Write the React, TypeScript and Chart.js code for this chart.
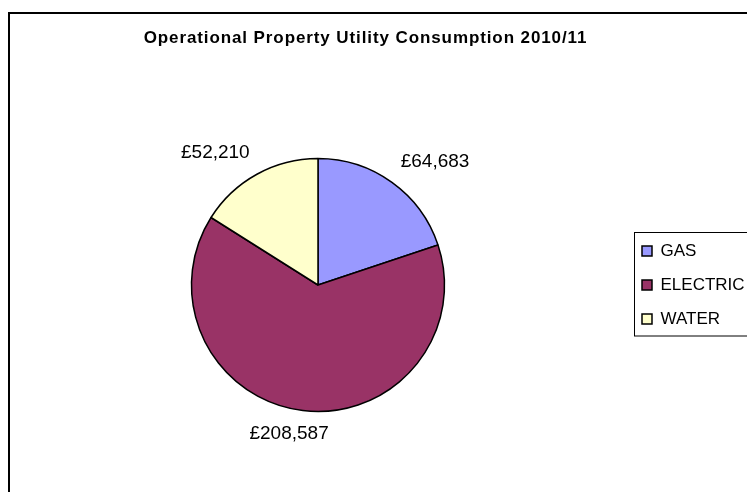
import { useEffect, useRef } from 'react';
import { Chart, registerables } from 'chart.js';

Chart.register(...registerables);

const titleText = 'Operational Property Utility Consumption 2010/11';
const categories = ['GAS', 'ELECTRIC', 'WATER'];
const costs = [64683, 208587, 52210];
const sliceColors = ['#9999FF', '#993366', '#FFFFCC'];

const FONT = "'Liberation Sans', Arial, Helvetica, sans-serif";
const CANVAS_W = 780;
const CANVAS_H = 500;

function formatPounds(v: number): string {
  return '£' + String(v).replace(/\B(?=(\d{3})+(?!\d))/g, ',');
}

const framePlugin = {
  id: 'frame',
  afterInit(chart: any) {
    const tb = chart.titleBlock;
    if (tb && !tb.__spaced) {
      const orig = tb.draw.bind(tb);
      tb.draw = (...args: any[]) => {
        const ctx: any = chart.ctx;
        const prev = ctx.letterSpacing;
        ctx.letterSpacing = '0.9px';
        orig(...args);
        ctx.letterSpacing = prev || '0px';
      };
      tb.__spaced = true;
    }
    const lg = chart.legend;
    if (lg && !lg.__noclip && typeof lg._draw === 'function') {
      // legend text runs past the legend box, as in the cropped original
      lg.draw = function () {
        if (this.options.display) this._draw();
      };
      lg.__noclip = true;
    }
  },
  beforeDraw(chart: any) {
    const ctx = chart.ctx;
    ctx.save();
    ctx.fillStyle = '#ffffff';
    ctx.fillRect(0, 0, chart.width, chart.height);
    ctx.strokeStyle = '#000000';
    ctx.lineWidth = 2;
    ctx.strokeRect(9, 13, chart.width + 40, chart.height + 40);
    ctx.restore();
  },
  afterDraw(chart: any) {
    const ctx = chart.ctx;
    const lg = chart.legend;
    if (!lg) return;
    ctx.save();
    ctx.strokeStyle = '#000000';
    ctx.lineWidth = 1;
    ctx.strokeRect(Math.round(lg.left + 9) + 0.5, 232.5, 300, 103.5);
    ctx.restore();
  },
};

const labelPlugin = {
  id: 'sliceLabels',
  afterDatasetsDraw(chart: any) {
    const ctx = chart.ctx;
    const meta = chart.getDatasetMeta(0);
    const values = chart.data.datasets[0].data as number[];
    const clamp = (v: number) => Math.max(-1, Math.min(1, v));
    ctx.save();
    ctx.font = `19px ${FONT}`;
    ctx.fillStyle = '#000000';
    ctx.textAlign = 'center';
    ctx.textBaseline = 'middle';
    meta.data.forEach((arc: any, i: number) => {
      const p = arc.getProps(['x', 'y', 'startAngle', 'endAngle', 'outerRadius'], true);
      const mid = (p.startAngle + p.endAngle) / 2;
      const dx = Math.cos(mid);
      const dy = Math.sin(mid);
      const dist = p.outerRadius + 15;
      const text = formatPounds(values[i]);
      const w = ctx.measureText(text).width;
      const h = 16;
      const cx = p.x + dist * dx + (w / 2) * clamp(dx / 0.4);
      const cy = p.y + dist * dy + (h / 2) * clamp(dy / 0.5);
      ctx.fillText(text, cx, cy);
    });
    ctx.restore();
  },
};

export default function App() {
  const canvasRef = useRef<HTMLCanvasElement | null>(null);

  useEffect(() => {
    if (!canvasRef.current) return;
    const chart = new Chart(canvasRef.current, {
      type: 'pie',
      data: {
        labels: categories,
        datasets: [
          {
            data: costs,
            backgroundColor: sliceColors,
            borderColor: '#000000',
            borderWidth: 1.5,
            radius: 126.5,
            hoverOffset: 0,
          } as any,
        ],
      },
      options: {
        responsive: false,
        animation: false,
        events: [],
        layout: { padding: { left: 11, right: 60, top: 0, bottom: 20 } },
        plugins: {
          title: {
            display: true,
            text: titleText,
            color: '#000000',
            font: { family: FONT, size: 17, weight: 'bold', lineHeight: 1.2 },
            padding: { top: 28.5, bottom: 41.1 },
          },
          legend: {
            position: 'right',
            align: 'center',
            fullSize: false,
            maxWidth: 95,
            labels: {
              color: '#000000',
              font: { family: FONT, size: 17 },
              boxWidth: 10,
              boxHeight: 10,
              padding: 17,
            },
          },
          tooltip: { enabled: false },
        },
      } as any,
      plugins: [framePlugin, labelPlugin],
    });
    return () => chart.destroy();
  }, []);

  return (
    <div
      style={{
        position: 'fixed',
        left: 0,
        top: 0,
        width: 747,
        height: 492,
        overflow: 'hidden',
        background: '#ffffff',
      }}
    >
      <canvas
        ref={canvasRef}
        width={CANVAS_W}
        height={CANVAS_H}
        style={{ display: 'block', width: CANVAS_W, height: CANVAS_H }}
      />
    </div>
  );
}
